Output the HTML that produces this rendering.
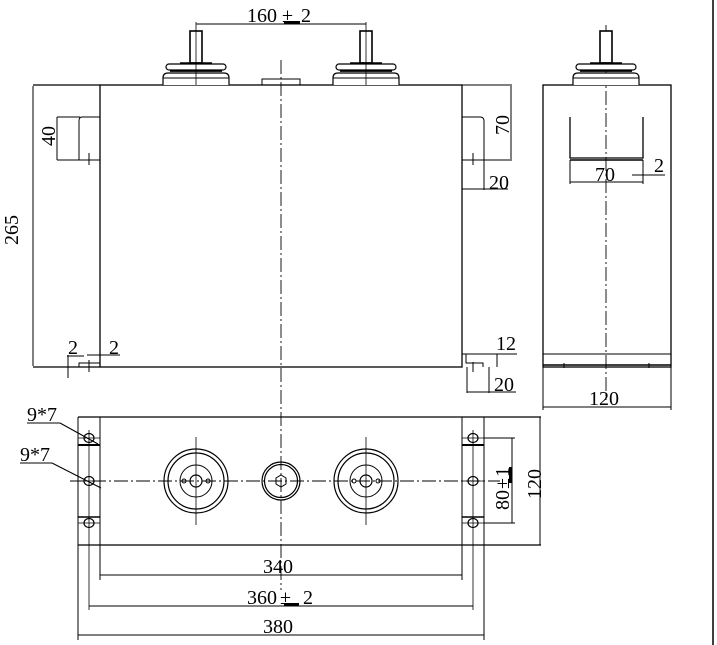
<!DOCTYPE html>
<html><head><meta charset="utf-8"><style>
html,body{margin:0;padding:0;background:#fff}
svg{display:block}
text{font-family:"Liberation Serif",serif;font-size:20px;fill:#000}
</style></head><body>
<svg width="717" height="645" viewBox="0 0 717 645" xmlns="http://www.w3.org/2000/svg">
<defs>
<g id="term">
<rect x="-6" y="31" width="12" height="32" fill="#fff" stroke="#000" stroke-width="1.6"/>
<line x1="-16" y1="63" x2="16" y2="63" stroke="#000" stroke-width="1.5"/>
<rect x="-30" y="64" width="60" height="6" rx="3" fill="#fff" stroke="#000" stroke-width="1.2"/>
<line x1="-26" y1="71" x2="26" y2="71" stroke="#000" stroke-width="1.8"/>
<path d="M-33 85 V78 Q-33 73 -28 73 H28 Q33 73 33 78 V85" fill="#fff" stroke="#000" stroke-width="1.2"/>
<line x1="-33" y1="78" x2="33" y2="78" stroke="#000" stroke-width="1"/>
</g>
<g id="bigc">
<circle r="32" fill="none" stroke="#000" stroke-width="1.2"/>
<circle r="28" fill="none" stroke="#000" stroke-width="1.2"/>
<circle r="16" fill="none" stroke="#000" stroke-width="1"/>
<circle r="6" fill="none" stroke="#000" stroke-width="1.2"/>
<circle cx="-12" r="2" fill="none" stroke="#000"/>
<circle cx="12" r="2" fill="none" stroke="#000"/>
<line x1="0" y1="-44" x2="0" y2="44" stroke="#000" stroke-width="0.8"/>
</g>
<g id="hole">
<ellipse rx="5" ry="4.5" fill="none" stroke="#000" stroke-width="1.2"/>
<line x1="-11" y1="0" x2="11" y2="0" stroke="#000" stroke-width="0.8"/>
</g>
</defs>
<g fill="none" stroke="#000" stroke-width="1">
<line x1="713" y1="0" x2="713" y2="645" stroke-width="1.5"/>
<rect x="100" y="85" width="362" height="282" stroke-width="1.3"/>
<line x1="33" y1="85" x2="100" y2="85" stroke-width="1.2"/>
<line x1="33" y1="367" x2="100" y2="367" stroke-width="1.2"/>
<line x1="33" y1="86" x2="33" y2="366"/>
<path d="M100 117 H82 Q79 117 79 121 V160 H100"/>
<line x1="57" y1="117" x2="80" y2="117"/><line x1="57" y1="160" x2="79" y2="160"/>
<line x1="57" y1="117" x2="57" y2="160"/>
<line x1="89" y1="153" x2="89" y2="165"/>
<path d="M462 117 H480 Q484 117 484 121 V160 H462"/>
<line x1="484" y1="160" x2="512" y2="160"/><line x1="462" y1="85" x2="512" y2="85"/>
<line x1="511" y1="86" x2="511" y2="159"/>
<line x1="473" y1="153" x2="473" y2="165"/>
<line x1="462" y1="189" x2="508" y2="189"/>
<line x1="484" y1="160" x2="484" y2="190"/>
<path d="M100 367 H79 V363 H100"/>
<line x1="68" y1="355" x2="68" y2="378"/>
<line x1="89" y1="360" x2="89" y2="372"/>
<line x1="67" y1="356" x2="84" y2="356"/>
<line x1="87" y1="355" x2="120" y2="355"/>
<path d="M462 354 H466 V363 H483 V367"/>
<line x1="466" y1="354" x2="517" y2="354"/>
<line x1="497" y1="354" x2="497" y2="367"/>
<line x1="473" y1="362" x2="473" y2="372"/>
<line x1="467" y1="367" x2="467" y2="393"/><line x1="489" y1="367" x2="489" y2="393"/>
<line x1="467" y1="392" x2="516" y2="392"/>
<line x1="196" y1="24" x2="366" y2="24"/>
<line x1="281" y1="60" x2="281" y2="590" stroke-dasharray="14,3,2,3" stroke-width="0.9"/>
<rect x="262" y="79" width="38" height="6"/>
<rect x="543" y="85" width="128" height="282" stroke-width="1.3"/>
<line x1="543" y1="354" x2="671" y2="354"/>
<line x1="543" y1="365" x2="671" y2="365" stroke-width="1.5"/>
<line x1="564" y1="363" x2="564" y2="368"/><line x1="649" y1="363" x2="649" y2="368"/>
<path d="M570 117 V158 H643 V117" stroke-width="1.3"/>
<line x1="570" y1="160" x2="643" y2="160" stroke-width="1.5"/>
<line x1="570" y1="160" x2="570" y2="184"/><line x1="643" y1="160" x2="643" y2="184"/>
<line x1="570" y1="182" x2="643" y2="182"/>
<line x1="632" y1="175" x2="665" y2="175"/>
<line x1="606" y1="25" x2="606" y2="400" stroke-dasharray="14,3,2,3" stroke-width="0.9"/>
<line x1="543" y1="367" x2="543" y2="410"/><line x1="671" y1="367" x2="671" y2="410"/>
<line x1="543" y1="407" x2="671" y2="407"/>
<line x1="78" y1="417" x2="541" y2="417" stroke-width="1.3"/>
<line x1="78" y1="545" x2="541" y2="545" stroke-width="1.3"/>
<line x1="78" y1="417" x2="78" y2="640"/>
<line x1="100" y1="417" x2="100" y2="580"/>
<line x1="462" y1="417" x2="462" y2="580"/>
<line x1="484" y1="417" x2="484" y2="640"/>
<line x1="89" y1="430" x2="89" y2="610" stroke-width="0.8"/>
<line x1="473" y1="430" x2="473" y2="610" stroke-width="0.8"/>
<line x1="78" y1="445" x2="100" y2="445" stroke-width="2"/>
<line x1="78" y1="517" x2="100" y2="517" stroke-width="1.5"/>
<line x1="462" y1="445" x2="484" y2="445" stroke-width="2"/>
<line x1="462" y1="517" x2="484" y2="517" stroke-width="1.5"/>
<line x1="70" y1="481" x2="500" y2="481" stroke-dasharray="14,3,2,3" stroke-width="0.9"/>
<line x1="484" y1="438" x2="515" y2="438"/><line x1="484" y1="523" x2="515" y2="523"/>
<line x1="512" y1="438" x2="512" y2="523"/>
<line x1="540" y1="417" x2="540" y2="545"/>
<line x1="27" y1="423" x2="60" y2="423"/><line x1="60" y1="423" x2="98" y2="444"/>
<line x1="20" y1="463" x2="52" y2="463"/><line x1="52" y1="463" x2="101" y2="488"/>
<line x1="100" y1="575" x2="462" y2="575"/>
<line x1="89" y1="606" x2="473" y2="606"/>
<line x1="78" y1="635" x2="484" y2="635"/>
<circle cx="281" cy="481" r="19" stroke-width="1.2"/>
<circle cx="281" cy="481" r="16.5" stroke-width="1.2"/>
<polygon points="281,475 286,478 286,484 281,487 276,484 276,478"/>
</g>
<use href="#term" x="196" y="0"/>
<use href="#term" x="366" y="0"/>
<use href="#term" x="606" y="0"/>
<line x1="196" y1="22" x2="196" y2="85" stroke="#000" stroke-width="0.8"/>
<line x1="366" y1="22" x2="366" y2="85" stroke="#000" stroke-width="0.8"/>
<use href="#bigc" x="196" y="481"/>
<use href="#bigc" x="366" y="481"/>
<use href="#hole" x="89" y="438"/><use href="#hole" x="89" y="481"/><use href="#hole" x="89" y="523"/>
<use href="#hole" x="473" y="438"/><use href="#hole" x="473" y="481"/><use href="#hole" x="473" y="523"/>
<text x="247" y="22">160</text><text x="282" y="22" font-size="24">±</text><rect x="284" y="21" width="16" height="3" fill="#000"/><text x="301" y="22">2</text>
<text transform="translate(55,146) rotate(-90)">40</text>
<text transform="translate(18,245) rotate(-90)">265</text>
<text transform="translate(509,135) rotate(-90)">70</text>
<text x="489" y="189">20</text>
<text x="68" y="354">2</text><text x="109" y="354">2</text>
<text x="496" y="350">12</text>
<text x="494" y="391">20</text>
<text x="595" y="181">70</text>
<text x="654" y="172">2</text>
<text x="589" y="405">120</text>
<text x="27" y="421">9*7</text>
<text x="20" y="461">9*7</text>
<text x="263" y="573">340</text>
<text x="247" y="604">360</text><text x="280" y="604" font-size="24">±</text><rect x="284" y="603" width="15" height="3" fill="#000"/><text x="303" y="604">2</text>
<text x="263" y="633">380</text>
<text transform="translate(509,510) rotate(-90)">80</text>
<text transform="translate(509,489) rotate(-90)" font-size="24">±</text>
<text transform="translate(509,477) rotate(-90)">1</text>
<rect x="509" y="467" width="3" height="16" fill="#000"/>
<text transform="translate(541,499) rotate(-90)">120</text>
</svg>
</body></html>
